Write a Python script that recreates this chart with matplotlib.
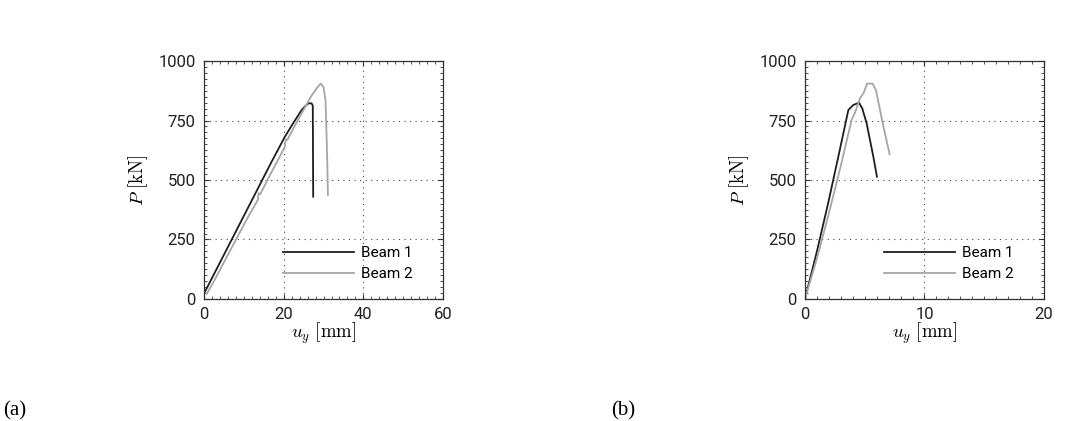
import matplotlib.pyplot as plt
from matplotlib.ticker import MultipleLocator

plt.rcParams['mathtext.fontset'] = 'cm'
plt.rcParams['font.family'] = ['Roboto', 'DejaVu Sans']

# (a) datos de la viga
a_b1_x = [0.25, 2.0, 5.0, 8.0, 11.0, 14.0, 17.0, 20.3, 22.5, 24.5, 25.5, 26.2, 27.0, 27.3, 27.4]
a_b1_y = [31, 88, 186, 284, 382, 480, 578, 682, 742, 794, 812, 822, 822, 812, 430]
a_b2_x = [0.7, 2.5, 5.5, 8.5, 11.5, 13.5, 13.7, 14.1, 17.0, 20.3, 20.5, 20.9, 23.0, 25.0, 27.0, 28.5, 29.3, 30.0, 30.5, 30.9, 31.1]
a_b2_y = [22, 75, 170, 265, 358, 416, 445, 440, 535, 640, 670, 668, 735, 795, 855, 890, 905, 890, 835, 600, 437]

# (b) datos de la viga
b_b1_x = [0.0, 1.0, 1.95, 2.8, 3.63, 4.04, 4.52, 4.8, 5.16, 5.72, 6.02]
b_b1_y = [0, 200, 405, 600, 794, 815, 825, 800, 738, 598, 514]
b_b2_x = [0.0, 1.0, 2.0, 3.0, 3.9, 4.18, 4.6, 4.9, 5.2, 5.66, 5.94, 6.5, 7.08]
b_b2_y = [0, 170, 360, 560, 752, 782, 843, 865, 905, 905, 877, 740, 608]

labels = ["Beam 1", "Beam 2"]
c_dark = "#1e1e1e"
c_light = "#a6a6a6"

fig = plt.figure(figsize=(10.71, 4.21), dpi=100)
ax1 = fig.add_axes([0.1905, 0.2898, 0.2232, 0.5653])
ax2 = fig.add_axes([0.7516, 0.2898, 0.2232, 0.5653])


def style(ax, xmax, xticks, xminor):
    ax.set_xlim(0, xmax)
    ax.set_ylim(0, 1000)
    ax.set_xticks(xticks)
    ax.set_yticks([0, 250, 500, 750, 1000])
    ax.xaxis.set_minor_locator(MultipleLocator(xminor))
    ax.yaxis.set_minor_locator(MultipleLocator(25))
    ax.grid(True, linestyle=(0, (1, 4)), color="#444444", linewidth=0.8)
    ax.tick_params(which="both", direction="in", top=True, right=True,
                   colors="#333333")
    ax.tick_params(which="major", length=3.5, labelsize=12, labelcolor="#222222")
    ax.tick_params(which="minor", length=2, width=0.6)
    ax.tick_params(axis="x", pad=6)
    ax.tick_params(axis="y", pad=6)
    for s in ax.spines.values():
        s.set_linewidth(0.9)
        s.set_color("#333333")
    ax.set_xlabel(r"$u_y\ [\mathrm{mm}]$", fontsize=13.5, labelpad=-1)
    ax.set_ylabel(r"$P\ [\mathrm{kN}]$", fontsize=13.5, labelpad=6)
    ax.legend(frameon=False, loc="lower right", bbox_to_anchor=(0.9, 0.05),
              fontsize=11, handlelength=4.7, borderaxespad=0.0,
              labelspacing=0.45, handletextpad=0.45)


ax1.plot(a_b1_x, a_b1_y, color=c_dark, lw=1.3, label=labels[0])
ax1.plot(a_b2_x, a_b2_y, color=c_light, lw=1.3, label=labels[1])
style(ax1, 60, [0, 20, 40, 60], 2)

ax2.plot(b_b1_x, b_b1_y, color=c_dark, lw=1.3, label=labels[0])
ax2.plot(b_b2_x, b_b2_y, color=c_light, lw=1.3, label=labels[1])
style(ax2, 20, [0, 10, 20], 1)

fig.text(0.003, 0.012, "(a)", fontsize=15, family="Liberation Serif")
fig.text(0.571, 0.012, "(b)", fontsize=15, family="Liberation Serif")

fig.savefig("out.png", dpi=100)
